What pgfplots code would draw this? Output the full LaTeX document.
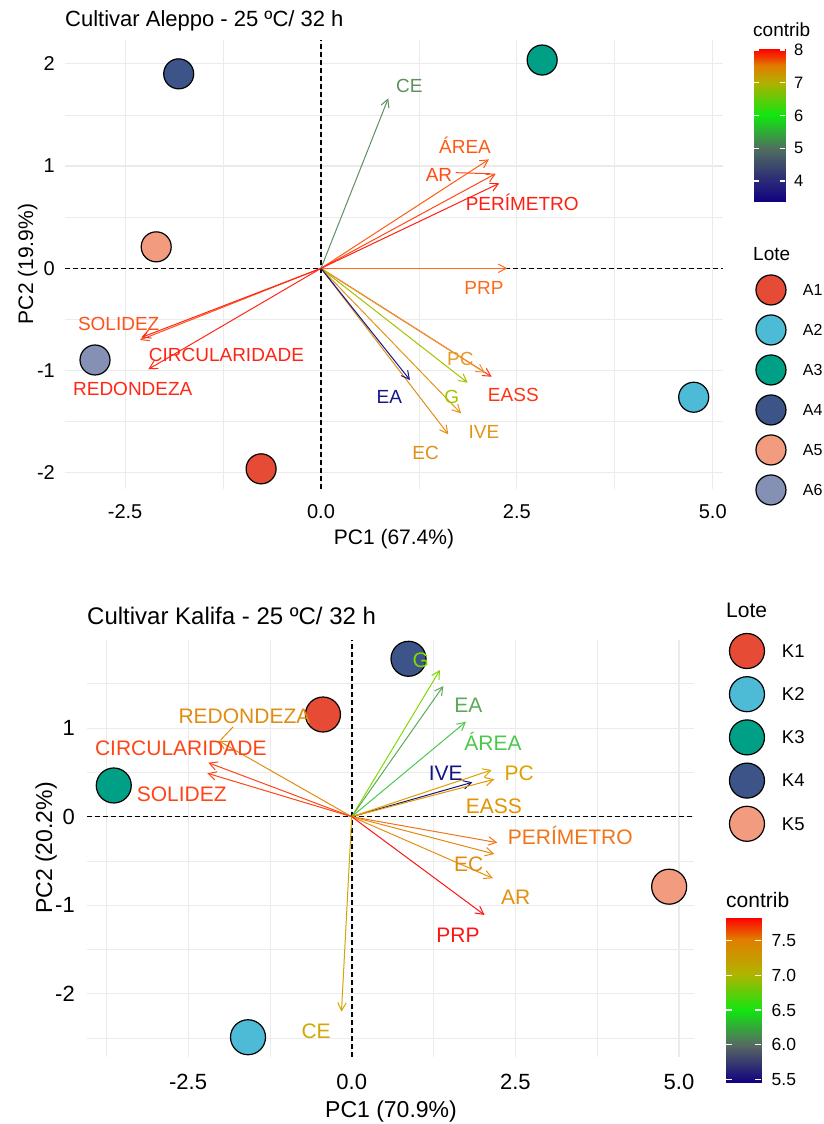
\documentclass[border=0pt]{standalone}
\usepackage{fontspec}
\setmainfont{Liberation Sans}
\usepackage{pgfplots}
\pgfplotsset{compat=1.18}
\usetikzlibrary{arrows.meta}

\definecolor{gridc}{HTML}{EBEBEB}
\definecolor{p1}{HTML}{E64B35}
\definecolor{p2}{HTML}{4DBBD5}
\definecolor{p3}{HTML}{00A087}
\definecolor{p4}{HTML}{3C5488}
\definecolor{p5}{HTML}{F39B7F}
\definecolor{p6}{HTML}{8491B4}
% top plot variable colours
\definecolor{tCE}{HTML}{5E8F62}
\definecolor{tAREA}{HTML}{FF5A14}
\definecolor{tAR}{HTML}{FF4A14}
\definecolor{tPER}{HTML}{FF1E12}
\definecolor{tPRP}{HTML}{FF6A1A}
\definecolor{tEASS}{HTML}{FF3412}
\definecolor{tPC}{HTML}{E69A28}
\definecolor{tG}{HTML}{A4C200}
\definecolor{tIVE}{HTML}{E09616}
\definecolor{tEC}{HTML}{E08E14}
\definecolor{tEA}{HTML}{16168A}
\definecolor{tSOL}{HTML}{FF5218}
\definecolor{tCIR}{HTML}{FF2414}
\definecolor{tRED}{HTML}{FF2814}
% bottom plot variable colours
\definecolor{bG}{HTML}{80D800}
\definecolor{bEA}{HTML}{5AAA5A}
\definecolor{bAREA}{HTML}{4CC84C}
\definecolor{bIVE}{HTML}{141480}
\definecolor{bPC}{HTML}{DCA200}
\definecolor{bEASS}{HTML}{E39400}
\definecolor{bPER}{HTML}{F07418}
\definecolor{bEC}{HTML}{E38A10}
\definecolor{bAR}{HTML}{E39010}
\definecolor{bPRP}{HTML}{FF1414}
\definecolor{bCE}{HTML}{D0A800}
\definecolor{bRED}{HTML}{E08C10}
\definecolor{bCIR}{HTML}{FF4418}
\definecolor{bSOL}{HTML}{FF4418}

\pgfplotsset{
  colormap={topcm}{rgb255(0cm)=(16,0,128) rgb255(14cm)=(42,42,120) rgb255(35cm)=(80,110,95) rgb255(56.5cm)=(16,230,16) rgb255(78cm)=(176,176,0) rgb255(89cm)=(225,125,0) rgb255(100cm)=(255,0,0)},
  colormap={botcm}{rgb255(0cm)=(16,0,128) rgb255(23cm)=(88,105,98) rgb255(44cm)=(16,230,16) rgb255(66cm)=(176,180,0) rgb255(87cm)=(225,125,0) rgb255(100cm)=(255,0,0)},
  arr/.style={forget plot, line width=1pt, -{Straight Barb[length=8pt,width=8.5pt]}},
  pts/.style={only marks, mark=*, mark options={draw=black, line width=1.2pt, fill=#1}},
  zero/.style={forget plot, black, line width=1.6pt, dash pattern=on 4.5pt off 3.5pt},
  cbar/.style={scale only axis, xmin=0, xmax=1, axis on top,
    axis line style={draw=none}, xtick=\empty,
    ytick pos=both, yticklabel pos=right, tick align=inside,
    minor tick length=0pt, tick style={draw=white, line width=1.2pt}},
  topgeom/.style={at={(65pt,635pt)}, anchor=south west,
    scale only axis, width=658.3pt, height=449pt,
    xmin=-3.267, xmax=5.135, ymin=-2.157, ymax=2.232, clip=false},
  botgeom/.style={at={(87pt,67pt)}, anchor=south west,
    scale only axis, width=606.5pt, height=417pt,
    xmin=-4.044, xmax=5.222, ymin=-2.712, ymax=1.994, clip=false},
}
\tikzset{
  labT/.style={inner sep=0pt, text height=13.6pt, text depth=0pt, anchor=center, font=\fontsize{19}{23}\selectfont},
  labB/.style={inner sep=0pt, text height=15.0pt, text depth=0pt, anchor=center, font=\fontsize{21}{25}\selectfont},
}

\begin{document}
\begin{tikzpicture}
\useasboundingbox (0pt,0pt) rectangle (823pt,1124pt);

%================ TOP : Aleppo =================
\begin{axis}[
  topgeom,
  axis line style={draw=none},
  major tick length=0pt, minor tick length=0pt,
  xtick={-2.5,0,2.5,5}, xticklabels={-2.5,0.0,2.5,5.0},
  ytick={-2,-1,0,1,2}, yticklabels={-2,-1,0,1,2},
  minor xtick={-1.25,1.25,3.75},
  minor ytick={-1.5,-0.5,0.5,1.5},
  grid=both,
  major grid style={draw=gridc, line width=1.1pt},
  minor grid style={draw=gridc, line width=0.6pt},
  xticklabel style={font=\fontsize{20}{24}\selectfont, anchor=center, inner sep=0pt, yshift=-23pt},
  yticklabel style={font=\fontsize{20}{24}\selectfont, anchor=east, inner sep=0pt, xshift=-10pt},
  legend style={at={(1.0481,0.4878)}, anchor=north west, draw=none, fill=none,
    inner sep=0pt, outer sep=0pt, row sep=0pt, column sep=16pt,
    font=\fontsize{16}{19}\selectfont, nodes={inner sep=0pt, text depth=0pt, draw=none}, cells={anchor=west}},
  legend cell align=left,
  legend image code/.code={\path[draw=none,fill=none] (0pt,-20pt) rectangle (32pt,20pt); \draw[#1] plot coordinates {(16pt,0pt)};},
  mark size=15pt,
]
\addplot[zero] coordinates {(-3.267,0) (5.135,0)};
\addplot[zero] coordinates {(0,-2.157) (0,2.232)};

\addplot[pts=p1] coordinates {(-0.764,-1.960)}; \addlegendentry{A1}
\addplot[pts=p2] coordinates {(4.757,-1.260)};  \addlegendentry{A2}
\addplot[pts=p3] coordinates {(2.823,2.036)};   \addlegendentry{A3}
\addplot[pts=p4] coordinates {(-1.816,1.901)};  \addlegendentry{A4}
\addplot[pts=p5] coordinates {(-2.103,0.210)};  \addlegendentry{A5}
\addplot[pts=p6] coordinates {(-2.884,-0.896)}; \addlegendentry{A6}

\addplot[arr, draw=tCE]   coordinates {(0,0) (0.859,1.662)};
\addplot[arr, draw=tAREA] coordinates {(0,0) (2.144,1.065)};
\addplot[arr, draw=tAR]   coordinates {(0,0) (2.229,0.925)};
\addplot[arr, draw=tPER]  coordinates {(0,0) (2.276,0.831)};
\addplot[arr, draw=tPRP]  coordinates {(0,0) (2.378,0)};
\addplot[arr, draw=tEASS] coordinates {(0,0) (2.179,-1.060)};
\addplot[arr, draw=tPC]   coordinates {(0,0) (2.093,-1.020)};
\addplot[arr, draw=tG]    coordinates {(0,0) (1.872,-1.118)};
\addplot[arr, draw=tIVE]  coordinates {(0,0) (1.787,-1.418)};
\addplot[arr, draw=tEC]   coordinates {(0,0) (1.625,-1.623)};
\addplot[arr, draw=tEA]   coordinates {(0,0) (1.136,-1.092)};
\addplot[arr, draw=tSOL]  coordinates {(0,0) (-2.310,-0.701)};
\addplot[arr, draw=tCIR]  coordinates {(0,0) (-2.290,-0.675)};
\addplot[arr, draw=tRED]  coordinates {(0,0) (-2.204,-0.987)};
\addplot[forget plot, draw=tAR, line width=1pt] coordinates {(1.72,0.935) (2.16,0.925)};
\end{axis}

% labels of the top biplot, on top of the points
\begin{axis}[topgeom, hide axis]
\node[labT, text=tCE]   at (axis cs:1.127,1.784) {CE};
\node[labT, text=tAREA] at (axis cs:1.838,1.192) {ÁREA};
\node[labT, text=tAR]   at (axis cs:1.506,0.912) {AR};
\node[labT, text=tPER]  at (axis cs:2.569,0.634) {PERÍMETRO};
\node[labT, text=tPRP]  at (axis cs:2.080,-0.186) {PRP};
\node[labT, text=tEASS] at (axis cs:2.455,-1.235) {EASS};
\node[labT, text=tPC]   at (axis cs:1.778,-0.887) {PC};
\node[labT, text=tG]    at (axis cs:1.668,-1.258) {G};
\node[labT, text=tIVE]  at (axis cs:2.080,-1.594) {IVE};
\node[labT, text=tEC]   at (axis cs:1.336,-1.799) {EC};
\node[labT, text=tEA]   at (axis cs:0.872,-1.255) {EA};
\node[labT, text=tSOL]  at (axis cs:-2.582,-0.538) {SOLIDEZ};
\node[labT, text=tCIR]  at (axis cs:-1.206,-0.848) {CIRCULARIDADE};
\node[labT, text=tRED]  at (axis cs:-2.402,-1.173) {REDONDEZA};
\end{axis}

% top colour bar
\begin{axis}[cbar,
  at={(754pt,922pt)}, anchor=south west, width=31pt, height=153pt,
  ymin=3.359, ymax=8.03,
  ytick={4,5,6,7,8}, yticklabels={4,5,6,7,8},
  major tick length=5pt,
  yticklabel style={font=\fontsize{16.5}{19}\selectfont, anchor=west, inner sep=0pt, xshift=9pt},
  colormap name=topcm, point meta min=3.359, point meta max=8.03,
]
\addplot[surf, shader=interp, mesh/cols=2, point meta=y] coordinates {
(0,3.359)(1,3.359) (0,3.6)(1,3.6) (0,3.8)(1,3.8) (0,4.0)(1,4.0) (0,4.2)(1,4.2)
(0,4.4)(1,4.4) (0,4.6)(1,4.6) (0,4.8)(1,4.8) (0,5.0)(1,5.0) (0,5.2)(1,5.2)
(0,5.4)(1,5.4) (0,5.6)(1,5.6) (0,5.8)(1,5.8) (0,6.0)(1,6.0) (0,6.2)(1,6.2)
(0,6.4)(1,6.4) (0,6.6)(1,6.6) (0,6.8)(1,6.8) (0,7.0)(1,7.0) (0,7.2)(1,7.2)
(0,7.4)(1,7.4) (0,7.6)(1,7.6) (0,7.8)(1,7.8) (0,8.03)(1,8.03)};
\end{axis}

%================ BOTTOM : Kalifa =================
\begin{axis}[
  botgeom,
  axis line style={draw=none},
  major tick length=0pt, minor tick length=0pt,
  xtick={-2.5,0,2.5,5}, xticklabels={-2.5,0.0,2.5,5.0},
  ytick={-2,-1,0,1}, yticklabels={-2,-1,0,1},
  minor xtick={-3.75,-1.25,1.25,3.75},
  minor ytick={-2.5,-1.5,-0.5,0.5,1.5},
  grid=both,
  major grid style={draw=gridc, line width=1.1pt},
  minor grid style={draw=gridc, line width=0.6pt},
  xticklabel style={font=\fontsize{22}{26}\selectfont, anchor=center, inner sep=0pt, yshift=-25pt},
  yticklabel style={font=\fontsize{22}{26}\selectfont, anchor=east, inner sep=0pt, xshift=-12pt},
  legend style={at={(1.0585,1.0254)}, anchor=north west, draw=none, fill=none,
    inner sep=0pt, outer sep=0pt, row sep=0pt, column sep=17pt,
    font=\fontsize{18.5}{22}\selectfont, nodes={inner sep=0pt, text depth=0pt, draw=none}, cells={anchor=west}},
  legend cell align=left,
  legend image code/.code={\path[draw=none,fill=none] (0pt,-21.6pt) rectangle (36pt,21.6pt); \draw[#1] plot coordinates {(18pt,0pt)};},
  mark size=17.5pt,
]
\addplot[zero] coordinates {(-4.044,0) (5.222,0)};
\addplot[zero] coordinates {(0,-2.712) (0,1.994)};

\addplot[pts=p1] coordinates {(-0.439,1.153)};  \addlegendentry{K1}
\addplot[pts=p2] coordinates {(-1.584,-2.489)}; \addlegendentry{K2}
\addplot[pts=p3] coordinates {(-3.635,0.352)};  \addlegendentry{K3}
\addplot[pts=p4] coordinates {(0.868,1.782)};   \addlegendentry{K4}
\addplot[pts=p5] coordinates {(4.850,-0.790)};  \addlegendentry{K5}

\addplot[arr, draw=bG]    coordinates {(0,0) (1.349,1.656)};
\addplot[arr, draw=bEA]   coordinates {(0,0) (1.400,1.475)};
\addplot[arr, draw=bAREA] coordinates {(0,0) (1.746,1.072)};
\addplot[arr, draw=bIVE]  coordinates {(0,0) (1.843,0.388)};
\addplot[arr, draw=bPC]   coordinates {(0,0) (2.139,0.527)};
\addplot[arr, draw=bEASS] coordinates {(0,0) (2.179,0.422)};
\addplot[arr, draw=bPER]  coordinates {(0,0) (2.225,-0.293)};
\addplot[arr, draw=bEC]   coordinates {(0,0) (2.179,-0.421)};
\addplot[arr, draw=bAR]   coordinates {(0,0) (2.156,-0.695)};
\addplot[arr, draw=bPRP]  coordinates {(0,0) (2.029,-1.109)};
\addplot[arr, draw=bCE]   coordinates {(0,0) (-0.156,-2.201)};
\addplot[arr, draw=bRED]  coordinates {(0,0) (-2.038,0.858)};
\addplot[arr, draw=bCIR]  coordinates {(0,0) (-2.191,0.609)};
\addplot[arr, draw=bSOL]  coordinates {(0,0) (-2.206,0.490)};
\addplot[forget plot, draw=bRED, line width=1pt] coordinates {(-1.809,1.016) (-2.000,0.866)};
\end{axis}

% labels of the bottom biplot, on top of the points
\begin{axis}[botgeom, hide axis]
\node[labB, text=bG]    at (axis cs:1.056,1.769) {G};
\node[labB, text=bEA]   at (axis cs:1.782,1.261) {EA};
\node[labB, text=bAREA] at (axis cs:2.159,0.826) {ÁREA};
\node[labB, text=bIVE]  at (axis cs:1.438,0.495) {IVE};
\node[labB, text=bPC]   at (axis cs:2.559,0.495) {PC};
\node[labB, text=bEASS] at (axis cs:2.171,0.119) {EASS};
\node[labB, text=bPER]  at (axis cs:3.340,-0.231) {PERÍMETRO};
\node[labB, text=bEC]   at (axis cs:1.787,-0.532) {EC};
\node[labB, text=bAR]   at (axis cs:2.506,-0.908) {AR};
\node[labB, text=bPRP]  at (axis cs:1.624,-1.339) {PRP};
\node[labB, text=bCE]   at (axis cs:-0.544,-2.413) {CE};
\node[labB, text=bRED]  at (axis cs:-1.638,1.134) {REDONDEZA};
\node[labB, text=bCIR]  at (axis cs:-2.611,0.775) {CIRCULARIDADE};
\node[labB, text=bSOL]  at (axis cs:-2.597,0.254) {SOLIDEZ};
\end{axis}

% bottom colour bar
\begin{axis}[cbar,
  at={(726pt,41pt)}, anchor=south west, width=35pt, height=165pt,
  ymin=5.447, ymax=7.828,
  ytick={5.5,6,6.5,7,7.5}, yticklabels={5.5,6.0,6.5,7.0,7.5},
  major tick length=6pt,
  yticklabel style={font=\fontsize{17.5}{20}\selectfont, anchor=west, inner sep=0pt, xshift=10.5pt},
  colormap name=botcm, point meta min=5.447, point meta max=7.828,
]
\addplot[surf, shader=interp, mesh/cols=2, point meta=y] coordinates {
(0,5.447)(1,5.447) (0,5.55)(1,5.55) (0,5.65)(1,5.65) (0,5.75)(1,5.75) (0,5.85)(1,5.85)
(0,5.95)(1,5.95) (0,6.05)(1,6.05) (0,6.15)(1,6.15) (0,6.25)(1,6.25) (0,6.35)(1,6.35)
(0,6.45)(1,6.45) (0,6.55)(1,6.55) (0,6.65)(1,6.65) (0,6.75)(1,6.75) (0,6.85)(1,6.85)
(0,6.95)(1,6.95) (0,7.05)(1,7.05) (0,7.15)(1,7.15) (0,7.25)(1,7.25) (0,7.35)(1,7.35)
(0,7.45)(1,7.45) (0,7.55)(1,7.55) (0,7.65)(1,7.65) (0,7.75)(1,7.75) (0,7.828)(1,7.828)};
\end{axis}

%================ titles and legend headings =================
\node[anchor=base west, inner sep=0pt, font=\fontsize{22}{26}\selectfont] at (65pt,1097pt) {Cultivar Aleppo - 25 ºC/ 32 h};
\node[anchor=base, inner sep=0pt, font=\fontsize{21}{25}\selectfont] at (394pt,579pt) {PC1 (67.4\%)};
\node[anchor=base, rotate=90, inner sep=0pt, font=\fontsize{21}{25}\selectfont] at (33pt,860pt) {PC2 (19.9\%)};
\node[anchor=base west, inner sep=0pt, font=\fontsize{19}{23}\selectfont] at (753pt,1087pt) {contrib};
\node[anchor=base west, inner sep=0pt, font=\fontsize{19}{23}\selectfont] at (753pt,863pt) {Lote};

\node[anchor=base west, inner sep=0pt, font=\fontsize{24}{28}\selectfont] at (87pt,499pt) {Cultivar Kalifa - 25 ºC/ 32 h};
\node[anchor=base, inner sep=0pt, font=\fontsize{23}{27}\selectfont] at (391pt,6pt) {PC1 (70.9\%)};
\node[anchor=base, rotate=90, inner sep=0pt, font=\fontsize{23}{27}\selectfont] at (52pt,276pt) {PC2 (20.2\%)};
\node[anchor=base west, inner sep=0pt, font=\fontsize{21}{25}\selectfont] at (726pt,506pt) {Lote};
\node[anchor=base west, inner sep=0pt, font=\fontsize{21}{25}\selectfont] at (726pt,216pt) {contrib};
\end{tikzpicture}
\end{document}
